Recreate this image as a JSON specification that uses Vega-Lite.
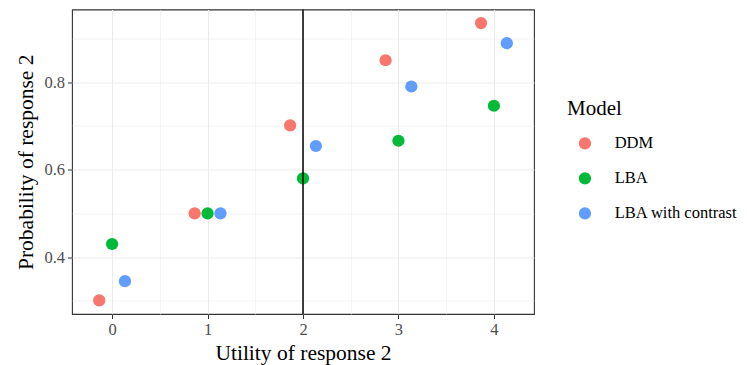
{
  "$schema": "https://vega.github.io/schema/vega-lite/v6.json",
  "autosize": {"type": "none"},
  "width": 462,
  "height": 304.5,
  "padding": {"left": 72, "top": 9.5, "right": 213, "bottom": 51},
  "config": {
    "font": "Liberation Serif",
    "view": {"stroke": "#333333", "strokeWidth": 1.1},
    "axis": {
      "domain": false,
      "tickColor": "#333333",
      "tickSize": 4.5,
      "labelColor": "#4d4d4d",
      "labelFontSize": 16.5,
      "labelFont": "Liberation Serif",
      "titleFont": "Liberation Serif",
      "titleFontSize": 21.5,
      "titleFontWeight": "normal",
      "titleColor": "#000000"
    }
  },
  "data": {
    "values": [
      {"utility": -0.135, "prob": 0.301, "Model": "DDM"},
      {"utility": 0.865, "prob": 0.5, "Model": "DDM"},
      {"utility": 1.865, "prob": 0.701, "Model": "DDM"},
      {"utility": 2.865, "prob": 0.85, "Model": "DDM"},
      {"utility": 3.865, "prob": 0.935, "Model": "DDM"},
      {"utility": 0, "prob": 0.43, "Model": "LBA"},
      {"utility": 1, "prob": 0.5, "Model": "LBA"},
      {"utility": 2, "prob": 0.58, "Model": "LBA"},
      {"utility": 3, "prob": 0.666, "Model": "LBA"},
      {"utility": 4, "prob": 0.746, "Model": "LBA"},
      {"utility": 0.135, "prob": 0.345, "Model": "LBA with contrast"},
      {"utility": 1.135, "prob": 0.5, "Model": "LBA with contrast"},
      {"utility": 2.135, "prob": 0.654, "Model": "LBA with contrast"},
      {"utility": 3.135, "prob": 0.79, "Model": "LBA with contrast"},
      {"utility": 4.135, "prob": 0.889, "Model": "LBA with contrast"}
    ]
  },
  "layer": [
    {
      "mark": {"type": "point", "filled": true, "opacity": 1, "size": 150},
      "encoding": {
        "x": {
          "field": "utility", "type": "quantitative",
          "scale": {"domain": [-0.42, 4.42], "nice": false, "zero": false},
          "axis": {
            "title": "Utility of response 2",
            "values": [-0.5, 0, 0.5, 1, 1.5, 2, 2.5, 3, 3.5, 4],
            "labelExpr": "round(datum.value*2) % 2 == 0 ? format(datum.value, 'd') : ''",
            "gridColor": "#ebebeb",
            "gridWidth": {"condition": {"test": "round(datum.value*2) % 2 != 0", "value": 0.6}, "value": 1.1},
            "tickOpacity": {"condition": {"test": "round(datum.value*2) % 2 != 0", "value": 0}, "value": 1},
            "labelPadding": 3,
            "titlePadding": 4
          }
        },
        "y": {
          "field": "prob", "type": "quantitative",
          "scale": {"domain": [0.27, 0.966], "nice": false, "zero": false},
          "axis": {
            "title": "Probability of response 2",
            "values": [0.3, 0.4, 0.5, 0.6, 0.7, 0.8, 0.9],
            "labelExpr": "round(datum.value*10) % 2 == 0 ? format(datum.value, '.1f') : ''",
            "gridColor": "#ebebeb",
            "gridWidth": {"condition": {"test": "round(datum.value*10) % 2 != 0", "value": 0.6}, "value": 1.1},
            "tickOpacity": {"condition": {"test": "round(datum.value*10) % 2 != 0", "value": 0}, "value": 1},
            "labelPadding": 3,
            "titlePadding": 6
          }
        },
        "color": {
          "field": "Model", "type": "nominal",
          "scale": {"domain": ["DDM", "LBA", "LBA with contrast"], "range": ["#F8766D", "#00BA38", "#619CFF"]},
          "legend": {
            "title": "Model",
            "orient": "none",
            "legendX": 495,
            "legendY": 88.7,
            "titleFontSize": 21,
            "titleFontWeight": "normal",
            "titleColor": "#000000",
            "titlePadding": 16,
            "labelFontSize": 16.5,
            "labelColor": "#000000",
            "labelOffset": 21.5,
            "symbolSize": 150,
            "symbolType": "circle",
            "rowPadding": 18,
            "symbolOffset": 9.7
          }
        }
      }
    },
    {
      "data": {"values": [{"x": 2}]},
      "mark": {"type": "rule", "color": "#000000", "strokeWidth": 1.5},
      "encoding": {"x": {"field": "x", "type": "quantitative"}}
    }
  ]
}
